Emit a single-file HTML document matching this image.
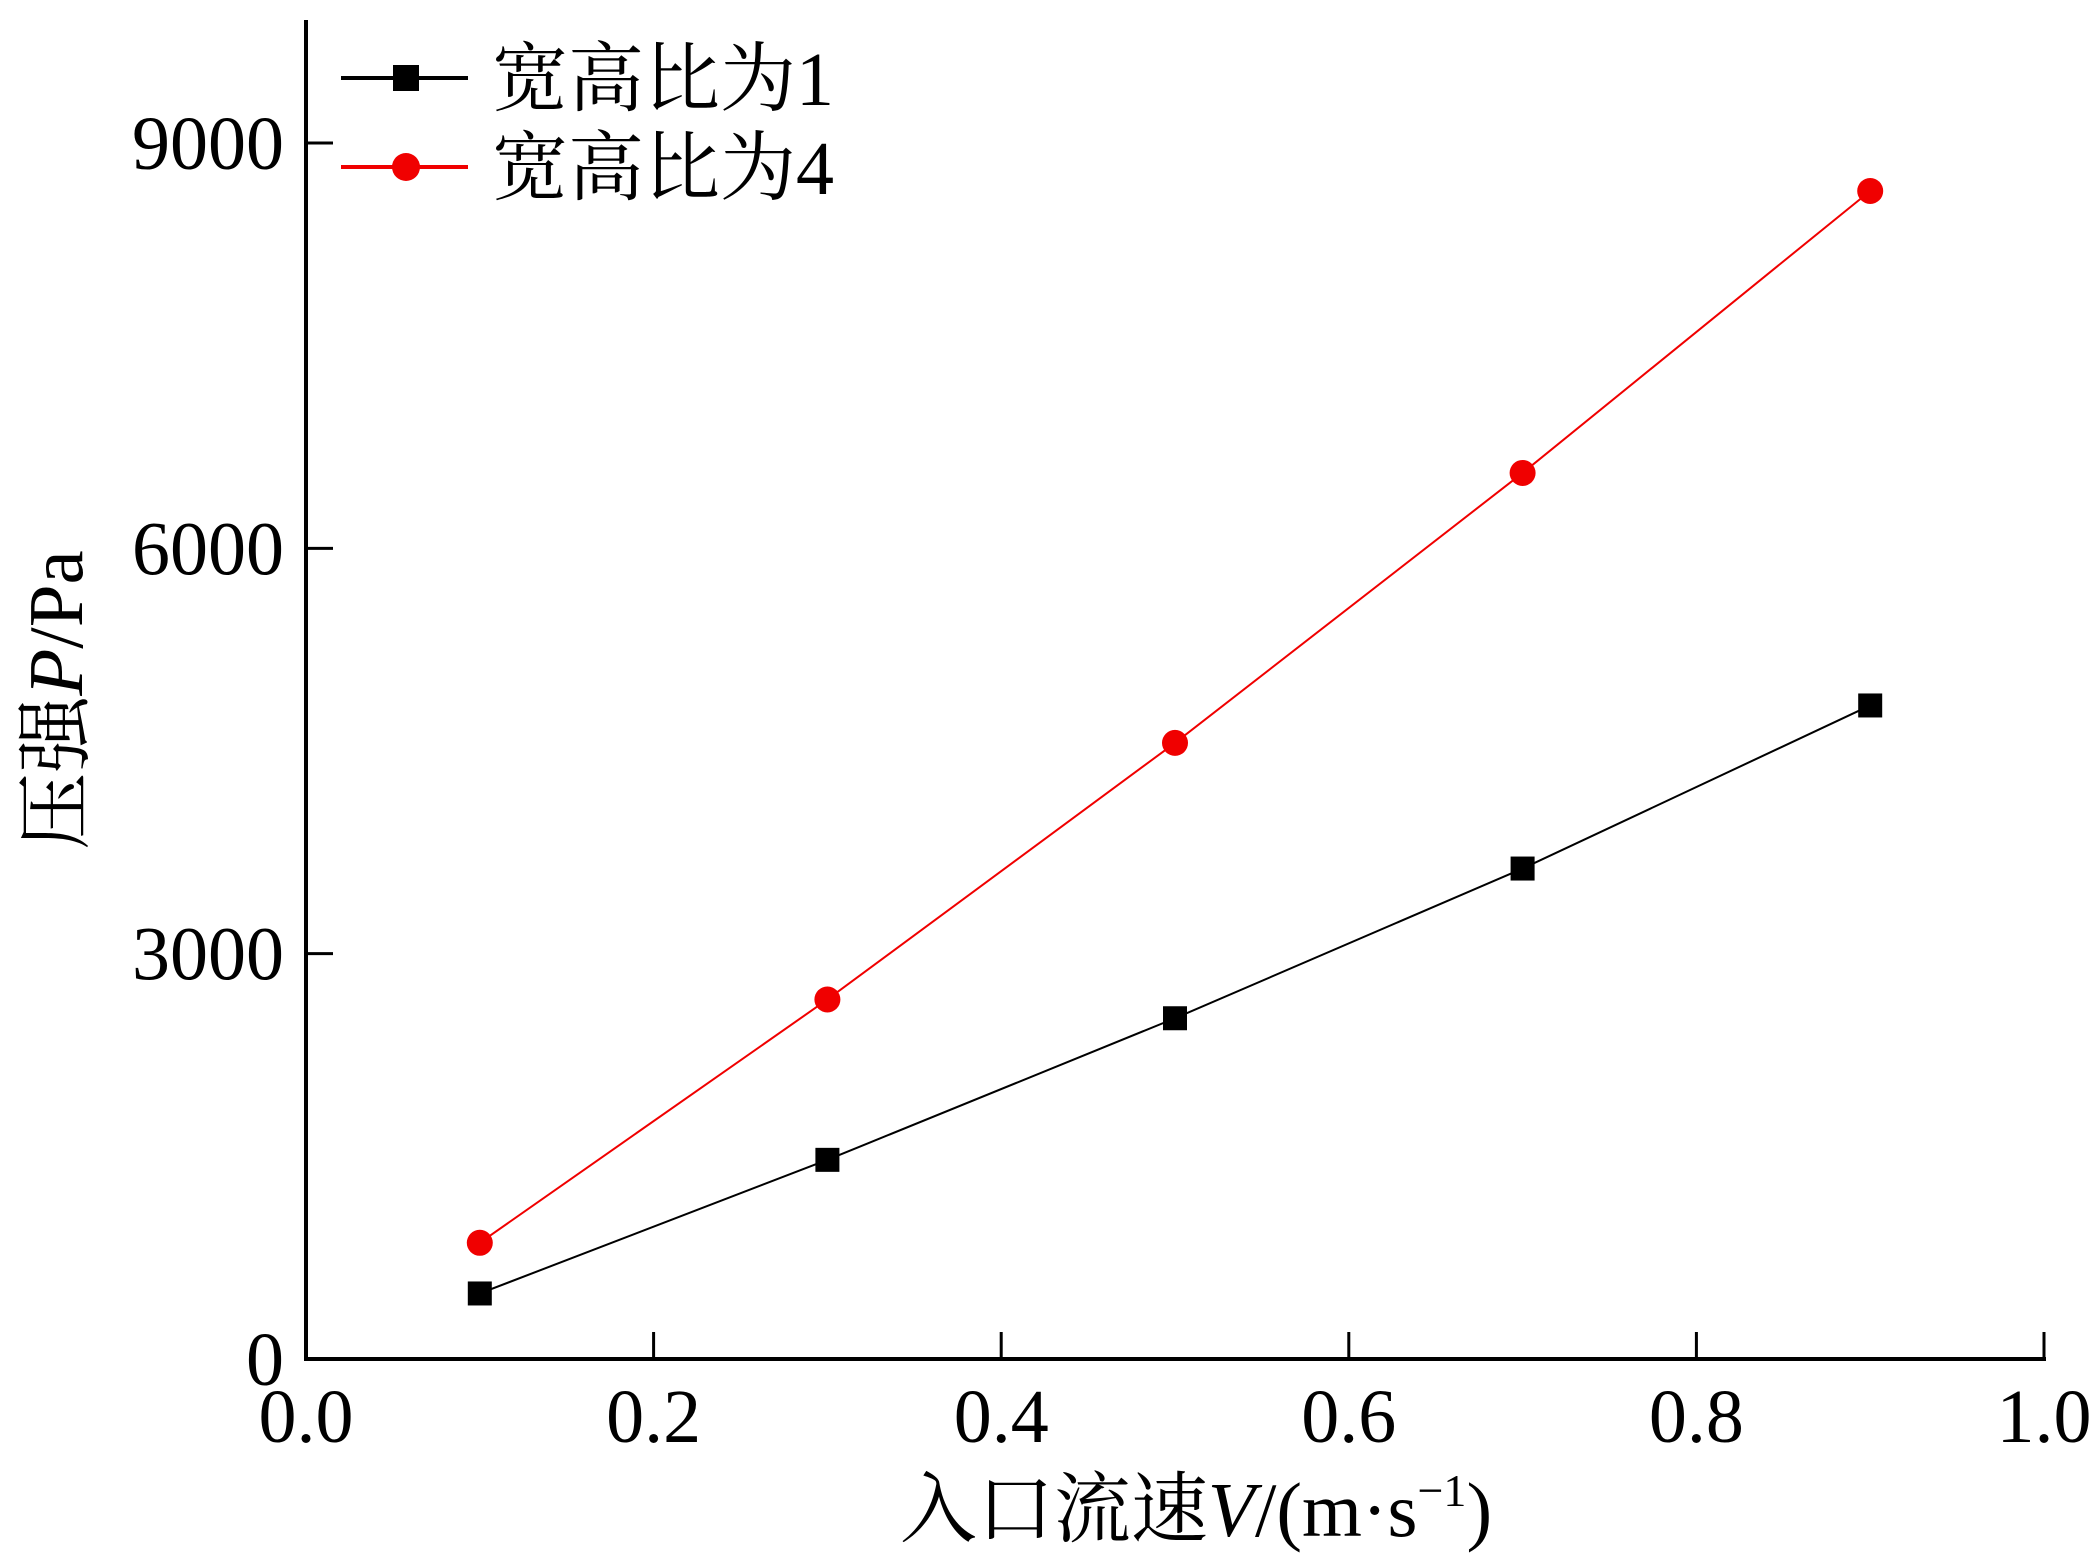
<!DOCTYPE html>
<html><head><meta charset="utf-8"><style>
body{margin:0;background:#fff}
svg{display:block}
text{font-family:"Liberation Serif","Noto Serif CJK SC",serif;fill:#000}
</style></head><body>
<svg id="chart" width="2095" height="1561" viewBox="0 0 2095 1561" xmlns="http://www.w3.org/2000/svg">
<g id="axes"></g><g id="series"></g><g id="legend"></g>
<text transform="translate(82,700) rotate(-90)" text-anchor="middle" font-size="77">压强<tspan font-style="italic">P</tspan>/Pa</text>
<text x="1196" y="1536" text-anchor="middle" font-size="77">入口流速<tspan font-style="italic">V</tspan>/(m·s<tspan font-size="46" dy="-30">−1</tspan><tspan dy="30">)</tspan></text>
</svg>
<script>
const xValues=[0.1,0.3,0.5,0.7,0.9];
const seriesAR1=[485,1474,2522,3630,4837];
const seriesAR4=[860,2661,4560,6558,8645];
const xTicks=[0,0.2,0.4,0.6,0.8,1.0];
const xTickLabels=["0.0","0.2","0.4","0.6","0.8","1.0"];
const yTicks=[0,3000,6000,9000];
const yTickLabels=["0","3000","6000","9000"];
const NS="http://www.w3.org/2000/svg";
const X0=306,X1=2044,Y0=1359,Y9=143;
const sx=v=>X0+(X1-X0)*v;
const sy=v=>Y0-(Y0-Y9)*v/9000;
function mk(tag,attrs,parent){const e=document.createElementNS(NS,tag);for(const k in attrs)e.setAttribute(k,attrs[k]);parent.appendChild(e);return e;}
const axes=document.getElementById('axes');
let e=mk('line',{x1:X0,y1:20,x2:X0,y2:Y0+2,stroke:'#000','stroke-width':4},axes);


e=mk('line',{x1:X0-2,y1:Y0,x2:X1+2,y2:Y0,stroke:'#000','stroke-width':4},axes);


xTicks.forEach((v,i)=>{
 const t=mk('line',{x1:sx(v),y1:Y0,x2:sx(v),y2:Y0-27,stroke:'#000','stroke-width':3},axes);
 
 
 const l=mk('text',{x:sx(v),y:1442,'text-anchor':'middle','font-size':76},axes);
 l.textContent=xTickLabels[i];
 
 
});
yTicks.forEach((v,i)=>{
 const t=mk('line',{x1:X0,y1:sy(v),x2:X0+27,y2:sy(v),stroke:'#000','stroke-width':3},axes);
 
 
 const l=mk('text',{x:X0-22,y:sy(v)+26,'text-anchor':'end','font-size':76},axes);
 l.textContent=yTickLabels[i];
 
 
});
const ser=document.getElementById('series');
function drawSeries(vals,color,shape,name){
 const g=mk('g',{},ser);
 
 
 const pl=mk('polyline',{points:xValues.map((x,i)=>sx(x)+','+sy(vals[i])).join(' '),fill:'none',stroke:color,'stroke-width':2},g);
 
 
 xValues.forEach((x,i)=>{
  let m;
  if(shape==='sq') m=mk('rect',{x:sx(x)-12,y:sy(vals[i])-12,width:24,height:24,fill:color},g);
  else m=mk('circle',{cx:sx(x),cy:sy(vals[i]),r:13,fill:color},g);
  
  
 });
}
drawSeries(seriesAR1,'#000','sq','series-aspect-1');
drawSeries(seriesAR4,'#f00000','ci','series-aspect-4');
const lg=document.getElementById('legend');
[['宽高比为1','#000','sq',78],['宽高比为4','#f00000','ci',167]].forEach(([txt,c,s,y])=>{
 const g=mk('g',{},lg);
 
 
 mk('line',{x1:341,y1:y,x2:468,y2:y,stroke:c,'stroke-width':4},g);
 if(s==='sq') mk('rect',{x:393,y:y-13,width:26,height:26,fill:c},g);
 else mk('circle',{cx:406,cy:y,r:14,fill:c},g);
 const t=mk('text',{x:492,y:y+27,'font-size':76},g);
 t.textContent=txt;
});
</script>
</body></html>
